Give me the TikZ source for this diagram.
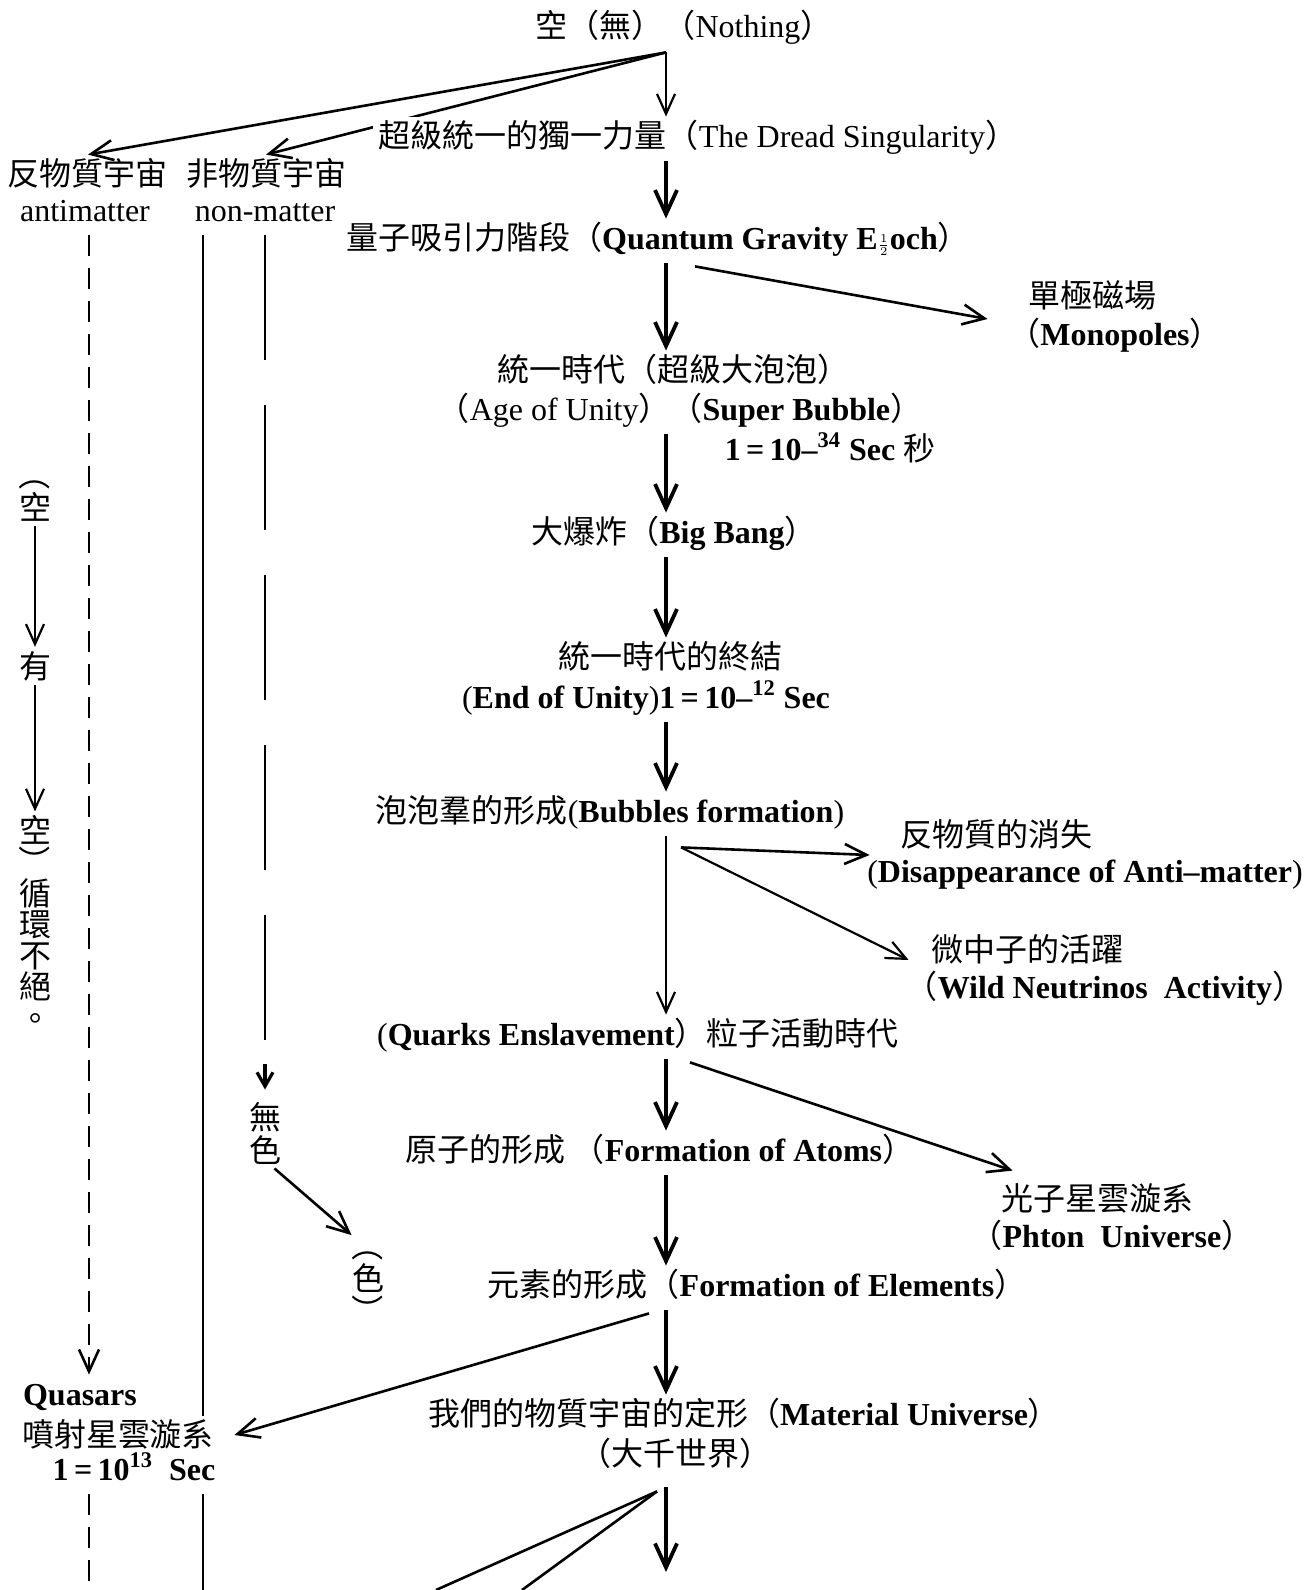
\documentclass[tikz,border=0pt]{standalone}
\usepackage{fontspec}
\setmainfont{Liberation Serif}
\newfontfamily\cjk{Noto Sans CJK TC}
\newcommand{\zh}[1]{{\cjk #1}}
\newcommand{\vlp}{\rotatebox[origin=c]{-90}{（}}
\newcommand{\vrp}{\rotatebox[origin=c]{-90}{）}}
\usetikzlibrary{arrows.meta,calc}

\begin{document}
\begin{tikzpicture}[x=.5pt,y=-.5pt,
    font=\fontsize{16}{19}\selectfont,
    lbl/.style={inner sep=3pt,text height=12pt,text depth=4pt},
    vert/.style={inner sep=2pt,align=center,font=\cjk\fontsize{16}{#1}\selectfont},
    bigarrow/.style={line width=1.9pt,-{Straight Barb[length=12pt,width=11pt]}},
    midarrow/.style={line width=1.3pt,-{Straight Barb[length=11pt,width=10pt]}},
    thinarrow/.style={line width=1.1pt,-{Straight Barb[length=10pt,width=9pt]}},
    amdash/.style={line width=1.3pt,dash pattern=on 10.5pt off 6pt},
    nmdash/.style={line width=1.4pt,dash pattern=on 62.5pt off 22.5pt}]
\useasboundingbox (0,0) rectangle (1309,1590);
\fill[white] (0,0) rectangle (1309,1590);
\coordinate (spine) at (666,0);
\coordinate (amx) at (89,0);
\coordinate (nmx) at (203,0);
\coordinate (bottom) at (0,1590);

% top
\node[lbl] (nothing) at (684,30) {\zh{空（無）（}Nothing\zh{）}};
\node[lbl] (anti) at (88,177) {\zh{反物質宇宙}};
\node[lbl] (antien) at (85,213) {antimatter};
\node[lbl] (non) at (266,177) {\zh{非物質宇宙}};
\node[lbl] (nonen) at (265,213) {non-matter};
\draw[midarrow] (nothing.south -| spine) -- (anti.north);
\draw[midarrow] (nothing.south -| spine) -- (non.north);
\node[lbl,fill=white] (dread) at (698,139) {\zh{超級統一的獨一力量（}The Dread Singularity\zh{）}};
\draw[thinarrow] (nothing.south -| spine) -- (dread.north -| spine);

% main column
\node[lbl] (quantum) at (658,241) {\zh{量子吸引力階段（}\textbf{Quantum Gravity E{\footnotesize$\frac{1}{2}$}och}\zh{）}};
\node[lbl] (mono) at (1092,299) {\zh{單極磁場}};
\node[lbl] (monoen) at (1115,337) {\zh{（}\textbf{Monopoles}\zh{）}};
\node[lbl] (unity) at (673,373) {\zh{統一時代（超級大泡泡）}};
\node[lbl] (unityen) at (680,412) {\zh{（}Age of Unity\zh{）（}\textbf{Super Bubble}\zh{）}};
\node[lbl] (unitysec) at (830,452) {\textbf{1\,=\,10–\textsuperscript{34} Sec} \zh{秒}};
\node[lbl] (bigbang) at (674,535) {\zh{大爆炸（}\textbf{Big Bang}\zh{）}};
\node[lbl] (endzh) at (670,660) {\zh{統一時代的終結}};
\node[lbl] (enden) at (646,700) {(\textbf{End of Unity})\textbf{1\,=\,10–\textsuperscript{12} Sec}};
\node[lbl] (bubbles) at (610,814) {\zh{泡泡羣的形成}(\textbf{Bubbles formation})};
\node[lbl] (disap) at (996,838) {\zh{反物質的消失}};
\node[lbl] (disapen) at (1085,874) {(\textbf{Disappearance of Anti–matter})};
\node[lbl] (neut) at (1027,953) {\zh{微中子的活躍}};
\node[lbl] (neuten) at (1105,990) {\zh{（}\textbf{Wild Neutrinos\ \ Activity}\zh{）}};
\node[lbl] (quarks) at (638,1037) {(\textbf{Quarks Enslavement}\zh{）粒子活動時代}};
\node[lbl] (atoms) at (660,1153) {\zh{原子的形成\ （}\textbf{Formation of Atoms}\zh{）}};
\node[lbl] (photon) at (1097,1202) {\zh{光子星雲漩系}};
\node[lbl] (photonen) at (1112,1239) {\zh{（}\textbf{Phton\ \ Universe}\zh{）}};
\node[lbl] (elements) at (757,1288) {\zh{元素的形成（}\textbf{Formation of Elements}\zh{）}};
\node[lbl] (material) at (744,1417) {\zh{我們的物質宇宙的定形（}\textbf{Material Universe}\zh{）}};
\node[lbl] (dazhen) at (675,1457) {\zh{（大千世界）}};
\coordinate (endtip) at (666,1572);
\coordinate (offa) at (436,1590);
\coordinate (offb) at (522,1590);

\draw[bigarrow] (dread.south -| spine) -- (quantum.north -| spine);
\draw[bigarrow] (quantum.south -| spine) -- (unity.north -| spine);
\draw[bigarrow] (unityen.south -| spine) -- (bigbang.north -| spine);
\draw[bigarrow] (bigbang.south -| spine) -- (endzh.north -| spine);
\draw[bigarrow] (enden.south -| spine) -- (bubbles.north -| spine);
\draw[thinarrow] (bubbles.south -| spine) -- (quarks.north -| spine);
\draw[bigarrow] (quarks.south -| spine) -- (atoms.north -| spine);
\draw[bigarrow] (atoms.south -| spine) -- (elements.north -| spine);
\draw[bigarrow] (elements.south -| spine) -- (material.north -| spine);
\draw[bigarrow] ($(dazhen.south -| spine)+(0,8)$) -- (endtip);

% side branches
\draw[midarrow] ($(quantum.south -| spine)+(29,3)$) -- ($(mono.west)+(-34,20)$);
\coordinate (bsplit) at ($(bubbles.south -| spine)+(15,11)$);
\draw[midarrow] (bsplit) -- ($(disap.west)+(-24,17)$);
\draw[thinarrow] (bsplit) -- ($(neut.west)+(-16,7)$);
\draw[midarrow] ($(quarks.south -| spine)+(24,3)$) -- ($(photon.north west)+(18,-9)$);

% left side
\node[lbl] (quasars) at (80,1397) {\textbf{Quasars}};
\node[lbl] (quasarszh) at (118,1438) {\zh{噴射星雲漩系}};
\node[lbl] (secq) at (134,1472) {\textbf{1\,=\,10\textsuperscript{13}\ \ Sec}};
\draw[midarrow] ($(elements.south -| spine)+(-17,3)$) -- ($(quasarszh.east)+(14,-3)$);
\draw[line width=1.3pt] ($(dazhen.south -| spine)+(-9,12)$) -- (offa);
\draw[line width=1.3pt] ($(dazhen.south -| spine)+(-9,12)$) -- (offb);

\draw[amdash,midarrow] (antien.south -| amx) -- (quasars.north -| amx);
\draw[amdash] (secq.south -| amx) -- (amx |- bottom);
\draw[line width=1.4pt] (nonen.south -| nmx) -- (quasarszh.north -| nmx);
\draw[line width=1.4pt] (secq.south -| nmx) -- (nmx |- bottom);

\node[vert=16.5] (wuse) at (265,1133) {無\\色};
\node[vert=14.3] (se) at (368,1278) {\vlp\\色\\\vrp};
\draw[nmdash] (nonen.south -| wuse) -- ($(wuse.north)+(0,-58)$);
\draw[line width=1.6pt,-{Straight Barb[length=7pt,width=8pt]},shorten >=4pt] ($(wuse.north)+(0,-34)$) -- (wuse.north);
\draw[midarrow] (wuse.-75) -- ($(se.north west)+(4,10)$);

% vertical note
\node[vert=14.5] (kong) at (35,490) {\vlp\\空};
\node[vert=15.6] (you) at (35,666) {有};
\node[vert=15.6] (kong2) at (35,923) {空\\\vrp\\循\\環\\不\\絕\\。};
\draw[thinarrow] (kong.south) -- (you.north);
\draw[thinarrow] (you.south) -- (kong2.north);
\end{tikzpicture}
\end{document}
